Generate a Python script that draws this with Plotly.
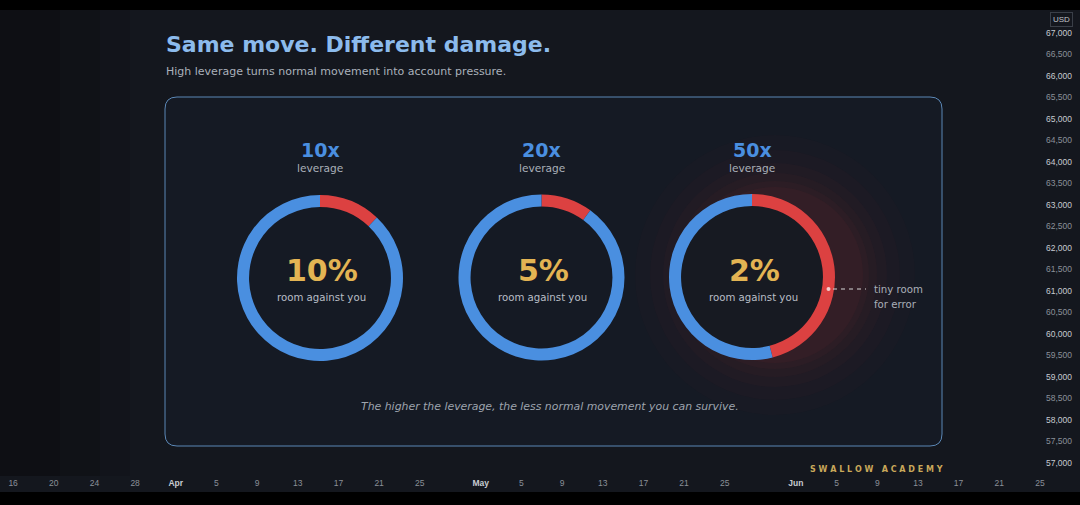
import plotly.graph_objects as go

# ---------------- data ----------------
leverage = ["10x", "20x", "50x"]
room_labels = ["10%", "5%", "2%"]
red_share = [12, 10, 46]          # red arc share of each ring (%)
blue_share = [88, 90, 54]

price_ticks = [67000, 66500, 66000, 65500, 65000, 64500, 64000, 63500, 63000,
               62500, 62000, 61500, 61000, 60500, 60000, 59500, 59000, 58500,
               58000, 57500, 57000]
date_ticks = ["2024-03-16", "2024-03-20", "2024-03-24", "2024-03-28", "2024-04-01",
              "2024-04-05", "2024-04-09", "2024-04-13", "2024-04-17", "2024-04-21",
              "2024-04-25", "2024-05-01", "2024-05-05", "2024-05-09", "2024-05-13",
              "2024-05-17", "2024-05-21", "2024-05-25", "2024-06-01", "2024-06-05",
              "2024-06-09", "2024-06-13", "2024-06-17", "2024-06-21", "2024-06-25"]
date_labels = ["16", "20", "24", "28", "Apr", "5", "9", "13", "17", "21", "25",
               "May", "5", "9", "13", "17", "21", "25", "Jun", "5", "9", "13",
               "17", "21", "25"]

# ---------------- geometry helpers ----------------
W, H = 1080, 505
ML, MR, MT, MB = 0, 35, 10, 29
PW = W - ML - MR
PH = H - MT - MB


def px(x):
    return (x - ML) / PW


def py(y):
    return (H - MB - y) / PH


BG = "#14171e"
CARD = "#151a24"
BLUE = "#4a8fe0"
RED = "#dc4141"
GOLD = "#e3b453"
GREY = "#a9afb8"
FONT = "DejaVu Sans"

fig = go.Figure()

centers = [(320, 278), (541.5, 277.5), (752, 277)]
R = 83
for i in range(3):
    cx, cy = centers[i]
    fig.add_trace(go.Pie(
        values=[red_share[i], blue_share[i]],
        marker=dict(colors=[RED, BLUE], line=dict(width=0)),
        hole=0.855, sort=False, direction="clockwise", rotation=0,
        textinfo="none", hoverinfo="skip", showlegend=False,
        domain=dict(x=[px(cx - R), px(cx + R)], y=[py(cy + R), py(cy - R)]),
    ))

# invisible trace to carry the axes
fig.add_trace(go.Scatter(x=[date_ticks[0], date_ticks[-1]],
                         y=[price_ticks[-1], price_ticks[0]],
                         mode="markers", marker=dict(opacity=0),
                         hoverinfo="skip", showlegend=False))

shapes = []
# background panels
shapes.append(dict(type="rect", xref="paper", yref="paper", layer="below",
                   x0=px(0), x1=px(W), y0=py(492), y1=py(MT),
                   fillcolor=BG, line=dict(width=0)))
for xe, op in [(60, 0.35), (100, 0.25), (130, 0.2)]:
    shapes.append(dict(type="rect", xref="paper", yref="paper", layer="below",
                       x0=px(0), x1=px(xe), y0=py(476), y1=py(MT),
                       fillcolor="#0a0b0e", opacity=op, line=dict(width=0)))
# card with rounded corners
x0c, x1c, y0c, y1c, rc = 165, 942, 97, 446, 12
path = (f"M {px(x0c + rc)},{py(y0c)} L {px(x1c - rc)},{py(y0c)} "
        f"Q {px(x1c)},{py(y0c)} {px(x1c)},{py(y0c + rc)} "
        f"L {px(x1c)},{py(y1c - rc)} Q {px(x1c)},{py(y1c)} {px(x1c - rc)},{py(y1c)} "
        f"L {px(x0c + rc)},{py(y1c)} Q {px(x0c)},{py(y1c)} {px(x0c)},{py(y1c - rc)} "
        f"L {px(x0c)},{py(y0c + rc)} Q {px(x0c)},{py(y0c)} {px(x0c + rc)},{py(y0c)} Z")
shapes.append(dict(type="path", xref="paper", yref="paper", layer="below", path=path,
                   fillcolor=CARD, line=dict(color="#5b87b5", width=1)))
# red glow around the 50x ring
gx, gy = 775, 275
for r, op in [(140, 0.02), (125, 0.025), (112, 0.03), (102, 0.035), (94, 0.045), (88, 0.05)]:
    shapes.append(dict(type="circle", xref="paper", yref="paper", layer="below",
                       x0=px(gx - r), x1=px(gx + r), y0=py(gy + r), y1=py(gy - r),
                       fillcolor="#c23a3a", opacity=op, line=dict(width=0)))
# dark interior of 50x ring
cx, cy = centers[2]
ri = 72
shapes.append(dict(type="circle", xref="paper", yref="paper", layer="below",
                   x0=px(cx - ri), x1=px(cx + ri), y0=py(cy + ri), y1=py(cy - ri),
                   fillcolor="#171a22", line=dict(width=0)))
# callout
shapes.append(dict(type="line", xref="paper", yref="paper",
                   x0=px(833), x1=px(866), y0=py(289), y1=py(289),
                   line=dict(color="#d8d8d8", width=1, dash="4px,4px")))
shapes.append(dict(type="circle", xref="paper", yref="paper",
                   x0=px(826.5), x1=px(830.5), y0=py(291), y1=py(287),
                   fillcolor="#f4d0d0", line=dict(width=0)))
# top / bottom black bars
shapes.append(dict(type="rect", xref="paper", yref="paper",
                   x0=px(0), x1=px(W), y0=py(MT), y1=py(0),
                   fillcolor="#000000", line=dict(width=0)))
shapes.append(dict(type="rect", xref="paper", yref="paper",
                   x0=px(0), x1=px(W), y0=py(H), y1=py(492),
                   fillcolor="#000000", line=dict(width=0)))

ann = []


def text(x, y, s, size, color, anchor="center", bold=False, italic=False, family=FONT):
    if bold:
        s = f"<b>{s}</b>"
    if italic:
        s = f"<i>{s}</i>"
    ann.append(dict(x=px(x), y=py(y), xref="paper", yref="paper", text=s,
                    showarrow=False, xanchor=anchor, yanchor="middle",
                    font=dict(size=size, color=color, family=family)))


text(164, 45, "Same move. Different damage.", 22, "#8cbbec", "left", bold=True)
text(164, 71, "High leverage turns normal movement into account pressure.", 11, "#aab1bb", "left")

for i in range(3):
    cx, cy = centers[i]
    text(cx, 150, leverage[i], 19, BLUE, bold=True)
    text(cx, 168, "leverage", 10.6, GREY)
    text(cx + 2, 270, room_labels[i], 30, GOLD, bold=True)
    text(cx + 1, 297, "room against you", 10.2, "#b9bec6")

text(872, 289, "tiny room", 10.2, "#a9afb8", "left")
text(872, 304, "for error", 10.2, "#a9afb8", "left")
text(550, 406, "The higher the leverage, the less normal movement you can survive.",
     10.9, "#9ea4ae", italic=True)
text(876, 469, "S W A L L O W   A C A D E M Y", 8, "#c9a85a", bold=True)

ann.append(dict(x=px(1061), y=py(20), xref="paper", yref="paper", text="USD",
                showarrow=False, xanchor="center", yanchor="middle",
                font=dict(size=8, color="#c0c4ca", family="Liberation Sans"),
                bordercolor="#3a3f48", borderwidth=1, borderpad=2, bgcolor=BG))

ytext = []
for v in price_ticks:
    col = "#c7cbd1" if v % 1000 == 0 else "#8b9099"
    ytext.append(f"<span style='color:{col}'>{v:,}</span>")
xtext = []
for lab in date_labels:
    if lab.isalpha():
        xtext.append(f"<span style='color:#c7cbd1'><b>{lab}</b></span>")
    else:
        xtext.append(lab)

fig.update_layout(
    width=W, height=H,
    margin=dict(l=ML, r=MR, t=MT, b=MB, pad=0),
    paper_bgcolor=BG, plot_bgcolor="rgba(0,0,0,0)",
    shapes=shapes, annotations=ann,
    xaxis=dict(type="date", range=["2024-03-14 17:00", "2024-06-25 12:00"],
               tickmode="array", tickvals=date_ticks, ticktext=xtext,
               showgrid=False, zeroline=False, ticks="", showline=False,
               tickfont=dict(size=8.5, color="#8b9099", family="Liberation Sans"),
               fixedrange=True),
    yaxis=dict(side="right", range=[56698, 67535], tickmode="array",
               tickvals=price_ticks, ticktext=ytext, showgrid=False, zeroline=False,
               ticks="", showline=False,
               tickfont=dict(size=8.5, color="#8b9099", family="Liberation Sans"),
               fixedrange=True),
)

fig.write_html("out.html")
